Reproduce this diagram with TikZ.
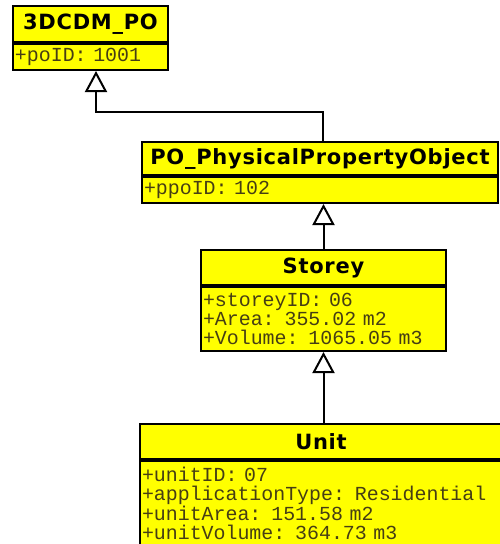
\documentclass[tikz,border=0pt]{standalone}
\usepackage{fontspec}
\usetikzlibrary{arrows.meta,calc}
\newfontfamily\hdrfont{DejaVu Sans}[LetterSpace=3.5]
\newfontfamily\attrfont{Liberation Mono}
\definecolor{umlyellow}{RGB}{255,255,0}
\definecolor{attrcol}{RGB}{70,62,20}
\tikzset{
  hdr/.style={draw=black, fill=umlyellow, line width=2pt, rectangle, inner sep=0pt,
    anchor=north west, font=\hdrfont\bfseries\fontsize{21}{24}\selectfont, text=black},
  attr/.style={draw=black, fill=umlyellow, line width=2pt, rectangle, inner sep=0pt,
    anchor=north west, align=left, font=\attrfont\fontsize{19.9}{19.3}\selectfont, text=attrcol},
  gen/.style={draw=black, line width=2pt, -{Triangle[open, length=21pt, width=22pt, line width=2pt]}}
}
\begin{document}
\begin{tikzpicture}[x=1pt,y=-1pt]
\useasboundingbox (0,0) rectangle (500,544);
% 3DCDM_PO
\node[hdr, minimum width=155pt, minimum height=36pt] (poh) at (12,5) {3DCDM\_PO};
\node[attr, minimum width=155pt, minimum height=26pt, text width=151pt] (poa) at (poh.south west) {+poID: 1001};
% PO_PhysicalPropertyObject
\node[hdr, minimum width=356pt, minimum height=33pt] (ppoh) at (141,141) {PO\_PhysicalPropertyObject};
\node[attr, minimum width=356pt, minimum height=26pt, text width=352pt] (ppoa) at (ppoh.south west) {+ppoID: 102};
% Storey
\node[hdr, minimum width=245pt, minimum height=35pt] (sth) at (200,249) {Storey};
\node[attr, minimum width=245pt, minimum height=64pt, text width=241pt] (sta) at (sth.south west) {+storeyID: 06\\+Area: 355.02 m2\\+Volume: 1065.05 m3};
% Unit
\node[hdr, minimum width=362pt, minimum height=35pt] (unh) at (139,423) {Unit};
\node[attr, minimum width=362pt, minimum height=85pt, text width=358pt] (una) at (unh.south west) {+unitID: 07\\+applicationType: Residential\\+unitArea: 151.58 m2\\+unitVolume: 364.73 m3};
% generalisations
\draw[gen] ([xshift=3pt]ppoh.north) |- ([xshift=5.5pt,yshift=-41pt]poa.south) -- ([xshift=5.5pt]poa.south);
\draw[gen] (sth.north) -- (ppoa.south -| sth.north);
\draw[gen] (unh.north -| sta.south) -- (sta.south);
\end{tikzpicture}
\end{document}
